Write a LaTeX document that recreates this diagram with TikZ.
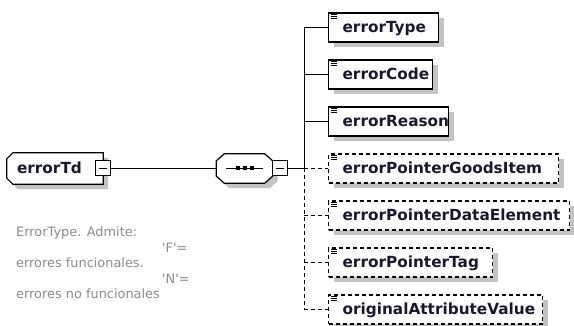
\documentclass[tikz,border=0pt]{standalone}
\usepackage{fontspec}
\setmainfont{DejaVu Sans}
\newfontfamily\descfam{DejaVu Sans}[Ligatures=TeXOff]
\usetikzlibrary{shadows,backgrounds}
\definecolor{shadowc}{RGB}{195,195,195}
\definecolor{namec}{RGB}{24,24,48}
\definecolor{descc}{RGB}{140,140,140}
\newcommand\namefont{\bfseries\fontsize{15.3}{18}\selectfont}
\newcommand\descfont{\descfam\fontsize{12.9}{15}\selectfont}
\newcommand\elicon[1]{\foreach \d in {2,4,6} \draw[line width=0.8pt] ([shift={(3,\d)}]#1.north west) -- ++(6,0);}
\tikzset{
  elem/.style={draw=black, fill=white, line width=1.2pt, minimum height=29pt, inner sep=0pt,
    text height=11pt, text depth=0pt, anchor=west, font=\namefont, text=namec,
    drop shadow={shadow xshift=5pt, shadow yshift=-5pt, fill=shadowc, opacity=1}},
  optelem/.style={elem, dash pattern=on 4pt off 3pt},
  conn/.style={draw=black, line width=1pt},
  optconn/.style={conn, dash pattern=on 4pt off 3pt},
  mbox/.style={draw=black, fill=white, line width=1pt, minimum size=15pt, inner sep=0pt},
  desc/.style={font=\descfont, text=descc, anchor=base west, inner sep=0pt},
  outline/.style={draw=black, fill=white, line width=1.2pt},
  shade/.style={fill=shadowc, transform canvas={xshift=5pt, yshift=-5pt}}
}
\begin{document}
\begin{tikzpicture}[x=1pt, y=-1pt]
\useasboundingbox (0,0) rectangle (574,326);

% root element
\node[inner sep=0pt, minimum width=96pt, minimum height=31pt, text height=11pt, text depth=0pt,
  font=\namefont, text=namec] (td) at (55,168.5) {\makebox[96pt][l]{\hspace{10pt}errorTd}};
% sequence compositor
\node[inner sep=0pt, minimum width=56pt, minimum height=29pt] (seq) at (244.5,168.5) {};

\begin{scope}[on background layer]
  \fill[white] (0,0) rectangle (574,326);
  \path[shade] ([shift={(0,6)}]td.north west) -- ([shift={(6,0)}]td.north west) -- (td.north east)
    -- (td.south east) -- ([shift={(6,0)}]td.south west) -- ([shift={(0,-6)}]td.south west) -- cycle;
  \path[outline] ([shift={(0,6)}]td.north west) -- ([shift={(6,0)}]td.north west) -- (td.north east)
    -- (td.south east) -- ([shift={(6,0)}]td.south west) -- ([shift={(0,-6)}]td.south west) -- cycle;
  \path[shade] ([shift={(0,7)}]seq.north west) -- ([shift={(8,0)}]seq.north west)
    -- ([shift={(-8,0)}]seq.north east) -- ([shift={(0,7)}]seq.north east)
    -- ([shift={(0,-7)}]seq.south east) -- ([shift={(-8,0)}]seq.south east)
    -- ([shift={(8,0)}]seq.south west) -- ([shift={(0,-7)}]seq.south west) -- cycle;
  \path[outline] ([shift={(0,7)}]seq.north west) -- ([shift={(8,0)}]seq.north west)
    -- ([shift={(-8,0)}]seq.north east) -- ([shift={(0,7)}]seq.north east)
    -- ([shift={(0,-7)}]seq.south east) -- ([shift={(-8,0)}]seq.south east)
    -- ([shift={(8,0)}]seq.south west) -- ([shift={(0,-7)}]seq.south west) -- cycle;
\end{scope}

% sequence symbol
\draw[line width=1.2pt] ([shift={(9.5,0)}]seq.west) -- ([shift={(-9.5,0)}]seq.east);
\foreach \dx in {-7,0,7} \fill ([shift={(\dx-2,-2)}]seq.center) rectangle ++(4,4);

% collapse boxes
\node[mbox] (tdm) at (103,168.5) {};
\draw[line width=1pt] ([xshift=-4pt]tdm.center) -- ([xshift=4pt]tdm.center);
\node[mbox] (seqm) at (280,168.5) {};
\draw[line width=1pt] ([xshift=-4pt]seqm.center) -- ([xshift=4pt]seqm.center);

% children
\node[elem] (eT) at (328,27.5) {\makebox[110pt][l]{\hspace{14pt}errorType}};
\node[elem] (eC) at (328,74.5) {\makebox[104pt][l]{\hspace{14pt}errorCode}};
\node[elem] (eR) at (328,121.5) {\makebox[120pt][l]{\hspace{14pt}errorReason}};
\node[optelem] (eG) at (328,168.5) {\makebox[230pt][l]{\hspace{14pt}errorPointerGoodsItem}};
\node[optelem] (eD) at (328,215.5) {\makebox[241pt][l]{\hspace{14pt}errorPointerDataElement}};
\node[optelem] (eP) at (328,262.5) {\makebox[164pt][l]{\hspace{14pt}errorPointerTag}};
\node[optelem] (eO) at (328,309.5) {\makebox[214pt][l]{\hspace{14pt}originalAttributeValue}};
\foreach \n in {eT,eC,eR,eG,eD,eP,eO} {\elicon{\n}}

% bus
\coordinate (b1) at (304,27.5);
\coordinate (b2) at (304,74.5);
\coordinate (b3) at (304,121.5);
\coordinate (b4) at (304,168.5);
\coordinate (b5) at (304,215.5);
\coordinate (b6) at (304,262.5);
\coordinate (b7) at (304,309.5);
\draw[conn] (b1) -- (b4);
\draw[optconn] (b4) -- (b7);
\draw[conn] (tdm) -- (seq);
\draw[conn] (seqm) -- (b4);
\draw[conn] (b1) -- (eT);
\draw[conn] (b2) -- (eC);
\draw[conn] (b3) -- (eR);
\draw[optconn] (b4) -- (eG);
\draw[optconn] (b5) -- (eD);
\draw[optconn] (b6) -- (eP);
\draw[optconn] (b7) -- (eO);

% annotation
\node[desc] (d1) at (16,237) {ErrorType. Admite:};
\node[desc] (d2) at (162,253) {'F'=};
\node[desc] (d3) at (16,268) {errores funcionales.};
\node[desc] (d4) at (162,284) {'N'=};
\node[desc] (d5) at (16,299) {errores no funcionales};
\end{tikzpicture}
\end{document}
